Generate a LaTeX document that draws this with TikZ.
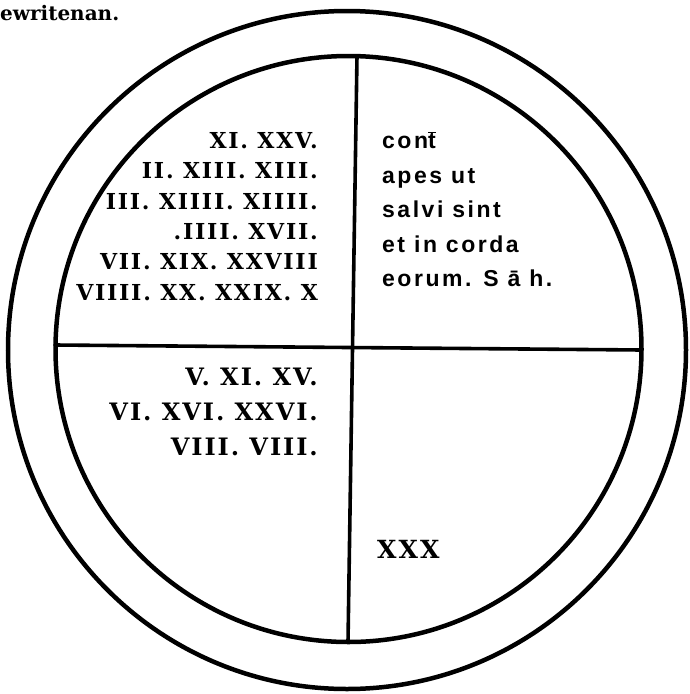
\documentclass[tikz,border=0pt]{standalone}
\usepackage{fontspec}
\newfontfamily\grotesk[LetterSpace=11]{Liberation Sans}
\newfontfamily\slab[LetterSpace=8]{DejaVu Serif}
\newfontfamily\plainslab{DejaVu Serif}
\newcommand\overt{\smash{$\overline{\mbox{t}}$}}

\begin{document}
\begin{tikzpicture}[
    x=1pt,y=-1pt,
    rim/.style={line width=4.5pt},
    cross/.style={line width=3.6pt,line cap=round},
    numerals/.style={font=\slab\bfseries\fontsize{22}{30.4}\selectfont,align=right,inner sep=0pt,anchor=north east},
    prayer/.style={font=\grotesk\bfseries\fontsize{23}{34.5}\selectfont,align=left,inner sep=0pt,anchor=north west}
  ]
    \useasboundingbox (0,0) rectangle (689,694);
    % the two rings
    \draw[rim] (347,350) circle[radius=339];
    \draw[rim] (348.5,349) circle[radius=293];
    % the cross inside the inner ring
    \coordinate (top) at (357,56);
    \coordinate (bottom) at (348,642);
    \coordinate (left) at (55,345);
    \coordinate (right) at (642,350);
    \draw[cross] (top) -- (bottom);
    \draw[cross] (left) -- (right);
    % texts
    \node[font=\plainslab\bfseries\fontsize{20}{20}\selectfont,anchor=base west,inner sep=0pt] (head) at (0,20) {ewritenan.};
    \node[numerals] (upperleft) at (318,132) {XI. XXV.\\II. XIII. XIII.\\III. XIIII. XIIII.\\.IIII. XVII.\\VII. XIX. XXVIII\\VIIII. XX. XXIX. X};
    \node[prayer] (upperright) at (382,132.5) {\vphantom{A}con\overt\\apes ut\\salvi sint\\et in corda\\eorum. S ā h.};
    \node[numerals,font=\slab\bfseries\fontsize{24}{35}\selectfont] (lowerleft) at (318,367.5) {V. XI. XV.\\VI. XVI. XXVI.\\VIII. VIII.};
    \node[font=\slab\bfseries\fontsize{25}{25}\selectfont,anchor=base west,inner sep=0pt] (lowerright) at (377,558) {XXX};
\end{tikzpicture}
\end{document}
